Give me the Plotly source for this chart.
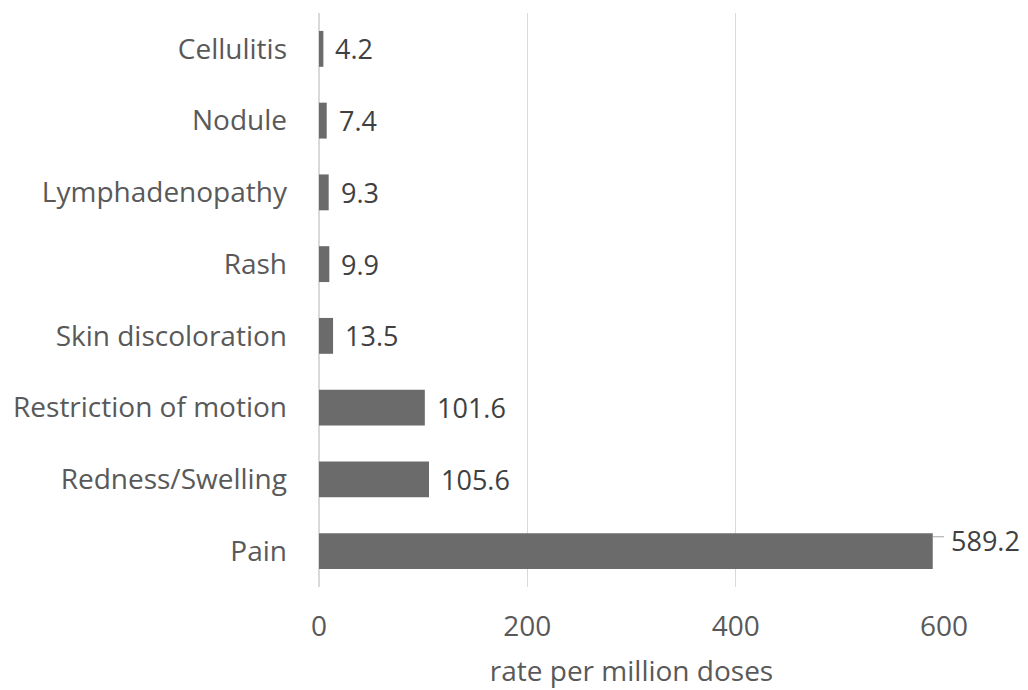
import plotly.graph_objects as go

categories = ["Pain", "Redness/Swelling", "Restriction of motion", "Skin discoloration",
              "Rash", "Lymphadenopathy", "Nodule", "Cellulitis"]
values = [589.2, 105.6, 101.6, 13.5, 9.9, 9.3, 7.4, 4.2]
labels = ["589.2", "105.6", "101.6", "13.5", "9.9", "9.3", "7.4", "4.2"]
tick_vals = [0, 200, 400, 600]

FONT = "Open Sans, sans-serif"
FS = 28
FS_LBL = 27

fig = go.Figure(go.Bar(
    x=values, y=categories, orientation="h",
    marker=dict(color="#6b6b6b", line=dict(width=0)),
    width=0.5,
))

annotations = []
shapes = []
for i, (c, v, t) in enumerate(zip(categories, values, labels)):
    if v > 500:
        annotations.append(dict(x=v, y=c, xref="x", yref="y", text=t, showarrow=False,
                                xanchor="left", yanchor="middle", xshift=16, yshift=11,
                                font=dict(family=FONT, size=FS_LBL, color="#404040")))
        shapes.append(dict(type="line", xref="x", yref="y", x0=v, x1=v + 11.5,
                           y0=i + 0.2, y1=i + 0.2,
                           line=dict(color="#a6a6a6", width=1)))
    else:
        annotations.append(dict(x=v, y=c, xref="x", yref="y", text=t, showarrow=False,
                                xanchor="left", yanchor="middle", xshift=10,
                                font=dict(family=FONT, size=FS_LBL, color="#404040")))

fig.update_layout(
    width=1028, height=690,
    margin=dict(l=311, r=92, t=5, b=111),
    plot_bgcolor="white", paper_bgcolor="white",
    showlegend=False,
    xaxis=dict(range=[0, 600], tickvals=tick_vals, showgrid=True, gridcolor="#d9d9d9",
               gridwidth=1, zeroline=True, zerolinecolor="#d9d9d9", showline=False,
               ticks="", ticklabelstandoff=20,
               tickfont=dict(family=FONT, size=FS, color="#595959"),
               title=dict(text="rate per million doses", standoff=18,
                          font=dict(family=FONT, size=FS, color="#595959"))),
    yaxis=dict(showgrid=False, zeroline=False, showline=False, ticks="",
               ticklabelstandoff=31,
               tickfont=dict(family=FONT, size=FS, color="#595959")),
    annotations=annotations,
    shapes=shapes,
)

fig.write_html("out.html")
